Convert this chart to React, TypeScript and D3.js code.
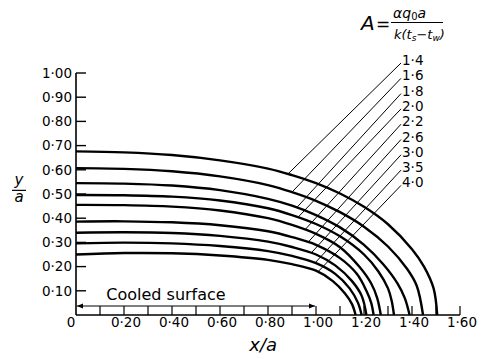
import React from "react";
import * as d3 from "d3";

const width = 481;
const height = 359;
const margin = { top: 73, right: 21, bottom: 44, left: 76 };
const innerW = width - margin.left - margin.right;
const innerH = height - margin.top - margin.bottom;

// axis ticks
const xTicks = [0.2, 0.4, 0.6, 0.8, 1.0, 1.2, 1.4, 1.6];
const xTickLabels = ["0·20", "0·40", "0·60", "0·80", "1·00", "1·20", "1·40", "1·60"];
const xMinorTicks = [0.1, 0.2, 0.3, 0.4, 0.5, 0.6, 0.7, 0.8, 0.9, 1.0, 1.1, 1.2, 1.3, 1.4, 1.5, 1.6];
const yTicks = [0.1, 0.2, 0.3, 0.4, 0.5, 0.6, 0.7, 0.8, 0.9, 1.0];
const yTickLabels = ["0·10", "0·20", "0·30", "0·40", "0·50", "0·60", "0·70", "0·80", "0·90", "1·00"];

// parameter A for each contour, top (outer) to bottom (inner)
const aLabels = ["1·4", "1·6", "1·8", "2·0", "2·2", "2·6", "3·0", "3·5", "4·0"];

// contour points [x/a, y/a]
const curveA14 = [[0, 0.676], [0.2, 0.672], [0.4, 0.661], [0.6, 0.639], [0.8, 0.605], [0.9, 0.578], [1.0, 0.545], [1.1, 0.502], [1.2, 0.447], [1.3, 0.375], [1.4, 0.272], [1.45, 0.2], [1.49, 0.11], [1.505, 0]];
const curveA16 = [[0, 0.607], [0.2, 0.604], [0.4, 0.594], [0.6, 0.573], [0.8, 0.537], [0.9, 0.508], [1.0, 0.472], [1.1, 0.425], [1.2, 0.365], [1.3, 0.283], [1.38, 0.19], [1.42, 0.12], [1.446, 0]];
const curveA18 = [[0, 0.545], [0.2, 0.543], [0.4, 0.535], [0.6, 0.516], [0.8, 0.48], [0.9, 0.452], [1.0, 0.413], [1.1, 0.362], [1.2, 0.29], [1.28, 0.21], [1.34, 0.13], [1.37, 0.07], [1.39, 0]];
const curveA20 = [[0, 0.496], [0.2, 0.495], [0.4, 0.489], [0.6, 0.473], [0.8, 0.441], [0.9, 0.413], [1.0, 0.376], [1.1, 0.325], [1.2, 0.25], [1.26, 0.18], [1.3, 0.11], [1.315, 0.06], [1.325, 0]];
const curveA22 = [[0, 0.455], [0.2, 0.454], [0.4, 0.448], [0.6, 0.432], [0.8, 0.4], [0.9, 0.372], [1.0, 0.335], [1.1, 0.28], [1.18, 0.2], [1.23, 0.13], [1.255, 0.07], [1.27, 0]];
const curveA26 = [[0, 0.386], [0.2, 0.387], [0.4, 0.383], [0.6, 0.371], [0.8, 0.346], [0.9, 0.322], [1.0, 0.29], [1.1, 0.235], [1.17, 0.17], [1.21, 0.1], [1.23, 0.05], [1.24, 0]];
const curveA30 = [[0, 0.34], [0.2, 0.342], [0.4, 0.339], [0.6, 0.327], [0.8, 0.303], [0.9, 0.281], [1.0, 0.25], [1.08, 0.205], [1.15, 0.14], [1.19, 0.08], [1.21, 0]];
const curveA35 = [[0, 0.296], [0.2, 0.299], [0.4, 0.296], [0.6, 0.285], [0.8, 0.264], [0.9, 0.244], [1.0, 0.214], [1.08, 0.17], [1.14, 0.11], [1.175, 0.05], [1.19, 0]];
const curveA40 = [[0, 0.25], [0.2, 0.256], [0.4, 0.255], [0.6, 0.246], [0.8, 0.228], [0.9, 0.21], [1.0, 0.183], [1.07, 0.14], [1.12, 0.09], [1.15, 0.045], [1.165, 0]];
const curves = [curveA14, curveA16, curveA18, curveA20, curveA22, curveA26, curveA30, curveA35, curveA40];

// where each label's leader meets its contour (x/a)
const leaderX = [0.883, 0.9, 0.92, 0.925, 0.954, 0.967, 0.98, 0.996, 1.008];

// extent of the cooled surface (x/a)
const cooledSurface = [0, 1.0];

const x = d3.scaleLinear().domain([0, 1.6]).range([0, innerW]);
const y = d3.scaleLinear().domain([0, 1.0]).range([innerH, 0]);

const line = d3
  .line<number[]>()
  .x(d => x(d[0]))
  .y(d => y(d[1]))
  .curve(d3.curveCatmullRom.alpha(0.5));

// linear lookup of a contour's y at a given x
function yAt(pts: number[][], xv: number) {
  for (let i = 1; i < pts.length; i++) {
    if (xv <= pts[i][0]) {
      const [x0, y0] = pts[i - 1];
      const [x1, y1] = pts[i];
      return y0 + ((xv - x0) / (x1 - x0)) * (y1 - y0);
    }
  }
  return 0;
}

const font = "'DejaVu Sans', sans-serif";
const tickLen = 9;

export default function App() {
  const labelX = 402 - margin.left;
  const labelY0 = 65 - margin.top;
  const labelStep = 15.3;

  return (
    <svg
      width={width}
      height={height}
      style={{ position: "absolute", left: 0, top: 0, background: "#fff" }}
      fontFamily={font}
    >
      <defs>
        <marker id="arr" viewBox="0 0 10 10" refX="10" refY="5" markerWidth="9" markerHeight="6" orient="auto-start-reverse" markerUnits="userSpaceOnUse">
          <path d="M0,1 L10,5 L0,9 Z" fill="#000" />
        </marker>
      </defs>

      {/* formula */}
      <g fill="#000">
        <text x={361} y={30} fontSize={20} fontStyle="italic">A</text>
        <text x={376} y={30} fontSize={17}>=</text>
        <text x={393} y={18} fontSize={14} fontStyle="italic">
          αq<tspan fontSize={10} fontStyle="normal" dy={2}>0</tspan>
          <tspan dy={-2}>a</tspan>
        </text>
        <line x1={391} x2={443} y1={22.5} y2={22.5} stroke="#000" strokeWidth={1} />
        <text x={394} y={39} fontSize={13} fontStyle="italic">
          k(t<tspan fontSize={9} dy={2}>s</tspan>
          <tspan dy={-2}>−t</tspan>
          <tspan fontSize={9} dy={2}>w</tspan>
          <tspan dy={-2}>)</tspan>
        </text>
      </g>

      <g transform={`translate(${margin.left},${margin.top})`}>
        {/* contours */}
        {curves.map((c, i) => (
          <path key={i} d={line(c) || ""} fill="none" stroke="#000" strokeWidth={2.4} />
        ))}

        {/* leaders and A labels */}
        {curves.map((c, i) => {
          const ly = labelY0 + i * labelStep;
          const ex = x(leaderX[i]);
          const ey = y(yAt(c, leaderX[i]));
          return (
            <g key={i}>
              <line x1={labelX - 1} y1={ly - 2} x2={ex} y2={ey} stroke="#000" strokeWidth={1} />
              <text x={labelX} y={ly} fontSize={13.5}>{aLabels[i]}</text>
            </g>
          );
        })}

        {/* axes */}
        <line x1={0} x2={0} y1={y(1.0)} y2={innerH} stroke="#000" strokeWidth={1.6} />
        <line x1={0} x2={x(1.6)} y1={innerH} y2={innerH} stroke="#000" strokeWidth={1.6} />
        {yTicks.map(t => (
          <line key={t} x1={0} x2={10} y1={y(t)} y2={y(t)} stroke="#000" strokeWidth={1.4} />
        ))}
        {xMinorTicks.map(t => (
          <line key={t} x1={x(t)} x2={x(t)} y1={innerH} y2={innerH - tickLen} stroke="#000" strokeWidth={1.2} />
        ))}
        {yTicks.map((t, i) => (
          <text key={t} x={-4} y={y(t)} dy="0.36em" textAnchor="end" fontSize={13.5}>{yTickLabels[i]}</text>
        ))}
        <text x={-5} y={innerH + 12} textAnchor="middle" fontSize={13.5}>0</text>
        {xTicks.map((t, i) => (
          <text key={t} x={x(t) + 2} y={innerH + 12} textAnchor="middle" fontSize={13.5}>{xTickLabels[i]}</text>
        ))}

        {/* cooled surface */}
        <line
          x1={x(cooledSurface[0]) + 1}
          x2={x(cooledSurface[1]) - 1}
          y1={innerH - tickLen}
          y2={innerH - tickLen}
          stroke="#000"
          strokeWidth={1.2}
          markerStart="url(#arr)"
          markerEnd="url(#arr)"
        />
        <text x={x(0.375)} y={innerH - 15} textAnchor="middle" fontSize={16}>Cooled surface</text>

        {/* axis titles */}
        <text x={x(0.78)} y={innerH + 36} textAnchor="middle" fontSize={18} fontStyle="italic">x/a</text>
        <g transform={`translate(${-57},${y(0.515)})`}>
          <text x={0} y={-5} textAnchor="middle" fontSize={15} fontStyle="italic">y</text>
          <line x1={-7} x2={7} y1={0} y2={0} stroke="#000" strokeWidth={1.2} />
          <text x={0} y={12} textAnchor="middle" fontSize={15} fontStyle="italic">a</text>
        </g>
      </g>
    </svg>
  );
}
